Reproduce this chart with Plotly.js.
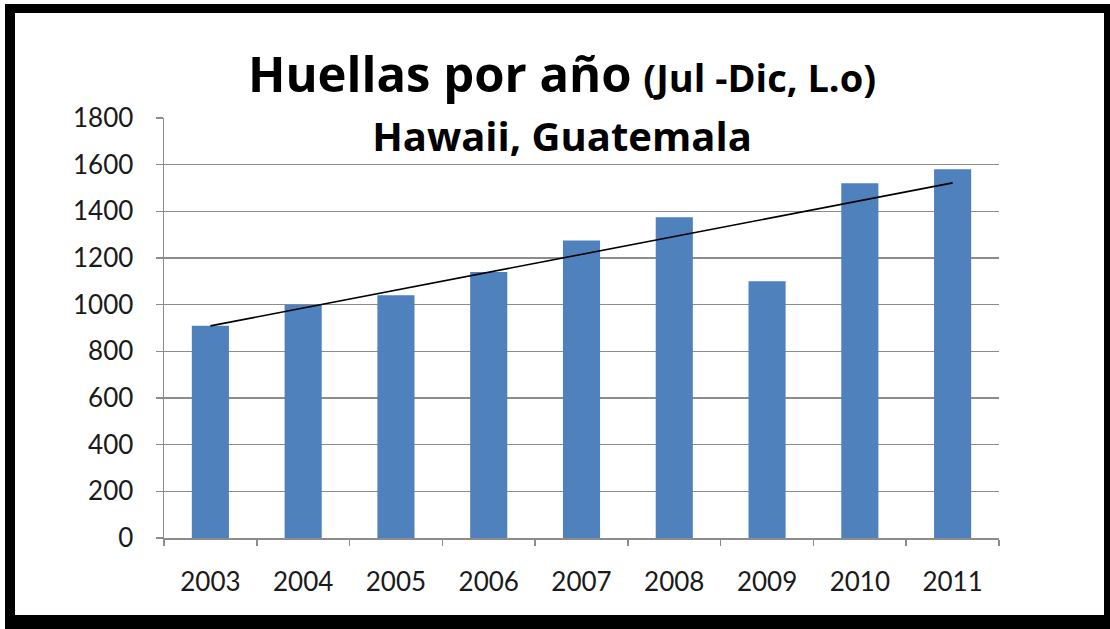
<!DOCTYPE html>
<html>
<head>
<meta charset="utf-8">
<script src="https://cdn.plot.ly/plotly-3.0.1.min.js"></script>
<style>
  html, body { margin:0; padding:0; background:#ffffff; width:1110px; height:629px; overflow:hidden; }
  #frame { position:absolute; left:5px; top:4px; width:1200px; height:700px; background:#000; }
  #inner { position:absolute; left:15px; top:13px; width:1089px; height:602px; background:#fff; }
  #chart { position:absolute; left:0; top:0; width:1110px; height:629px; }
</style>
</head>
<body>
<div id="frame"></div>
<div id="inner"></div>
<div id="chart"></div>
<script>
// Data
const years = ["2003", "2004", "2005", "2006", "2007", "2008", "2009", "2010", "2011"];
const huellas = [910, 1000, 1040, 1140, 1275, 1375, 1100, 1520, 1580];
const yTicks = [0, 200, 400, 600, 800, 1000, 1200, 1400, 1600, 1800];

// Linear trendline (least squares over category index), as in the Excel chart
const n = huellas.length;
const idx = huellas.map((_, i) => i);
const mx = idx.reduce((a, b) => a + b, 0) / n;
const my = huellas.reduce((a, b) => a + b, 0) / n;
let sxy = 0, sxx = 0;
idx.forEach(i => { sxy += (i - mx) * (huellas[i] - my); sxx += (i - mx) * (i - mx); });
const slope = sxy / sxx, icpt = my - slope * mx;
const trendX = [years[0], years[n - 1]];
const trendY = [icpt, icpt + slope * (n - 1)];

const bars = {
  type: 'bar', x: years, y: huellas,
  marker: { color: '#4F81BD' },
  hoverinfo: 'x+y', showlegend: false
};
const trend = {
  type: 'scatter', mode: 'lines', x: trendX, y: trendY,
  line: { color: '#000000', width: 1.6 },
  hoverinfo: 'skip', showlegend: false
};

const layout = {
  width: 1110, height: 629,
  paper_bgcolor: 'rgba(0,0,0,0)', plot_bgcolor: 'rgba(0,0,0,0)',
  margin: { l: 164, r: 111, t: 118, b: 91 },
  font: { family: 'Lato, "DejaVu Sans", sans-serif', color: '#1a1a1a' },
  title: {
    text: '<span style="font-size:49px">Huellas por año</span> <span style="font-size:38px">(Jul -Dic, L.o)</span><br><span style="font-size:40px">Hawaii, Guatemala</span>',
    font: { family: '"Open Sans", sans-serif', size: 45, weight: 'bold', color: '#000000' },
    x: 562 / 1110, xanchor: 'center', xref: 'container',
    y: 1 - 92 / 629, yanchor: 'top', yref: 'container'
  },
  bargap: 0.6,
  xaxis: {
    type: 'category', tickson: 'boundaries',
    ticks: 'outside', ticklen: 6, tickwidth: 1.5, tickcolor: '#8c8c8c',
    showline: true, linecolor: '#8c8c8c', linewidth: 1.5,
    showgrid: false, zeroline: false,
    tickfont: { size: 26, color: '#1a1a1a' },
    ticklabelstandoff: 20
  },
  yaxis: {
    range: [0, 1800], tickvals: yTicks, ticktext: yTicks.map(String),
    ticks: 'outside', ticklen: 7, tickwidth: 1.5, tickcolor: '#8c8c8c',
    showline: true, linecolor: '#8c8c8c', linewidth: 1.5,
    showgrid: true, gridcolor: '#8c8c8c', gridwidth: 1.5,
    zeroline: false,
    tickfont: { size: 26, color: '#1a1a1a' },
    ticklabelstandoff: 17
  }
};

Plotly.newPlot('chart', [bars, trend], layout, { displayModeBar: false, staticPlot: true });
</script>
</body>
</html>
